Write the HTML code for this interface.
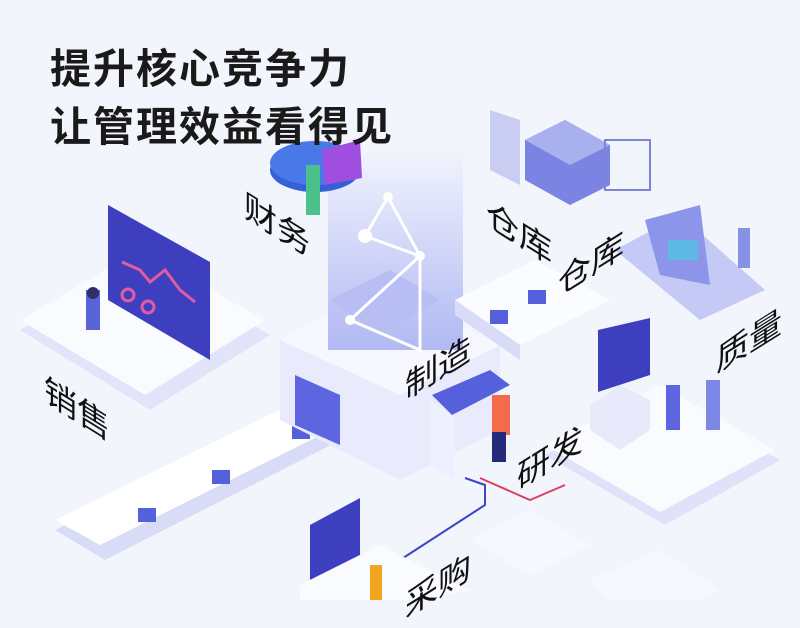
<!DOCTYPE html>
<html><head><meta charset="utf-8"><style>
body{margin:0;width:800px;height:600px;overflow:hidden;background:#f2f5fc;font-family:"Liberation Sans","Noto Sans CJK SC",sans-serif;position:relative}
.t{position:absolute;left:50px;font-size:41px;line-height:46px;font-weight:bold;color:#1a1a1a;letter-spacing:2px}
.l{position:absolute;font-size:33px;color:#111;white-space:nowrap;transform-origin:0 0}
.d{transform:skewY(32deg)}
.u{transform:skewY(-32deg)}
svg{position:absolute;left:0;top:0}
</style></head><body>
<svg width="800" height="600">
<defs>
<linearGradient id="col" x1="0" y1="0" x2="0" y2="1"><stop offset="0" stop-color="#f2f4fd"/><stop offset="1" stop-color="#a9b1f2"/></linearGradient>
</defs>
<polygon points="20,330 140,260 270,335 150,410" fill="#e2e5fa"/>
<polygon points="20,320 140,250 265,320 145,395" fill="#fafbff"/>
<polygon points="108,205 210,262 210,360 108,300" fill="#3d3fbf"/>
<polyline points="122,262 140,270 150,282 165,270 180,290 195,302" stroke="#e05ca0" stroke-width="3" fill="none"/>
<circle cx="128" cy="295" r="6" fill="none" stroke="#e05ca0" stroke-width="3"/>
<circle cx="148" cy="307" r="6" fill="none" stroke="#e05ca0" stroke-width="3"/>
<rect x="86" y="290" width="14" height="40" fill="#5a63d8"/>
<circle cx="93" cy="293" r="6" fill="#2c2f6a"/>
<polygon points="55,530 330,395 380,420 105,560" fill="#d9dcf7"/>
<polygon points="55,520 330,385 375,408 100,545" fill="#fff"/>
<rect x="138" y="508" width="18" height="14" fill="#5560dd"/>
<rect x="212" y="470" width="18" height="14" fill="#5560dd"/>
<rect x="292" y="425" width="18" height="14" fill="#5560dd"/>
<polygon points="280,340 380,285 500,345 500,430 400,480 280,420" fill="#e9ebfc"/>
<polygon points="280,340 380,285 500,345 400,395" fill="#f7f8ff"/>
<polygon points="295,375 340,395 340,445 295,425" fill="#5d66e0"/>
<rect x="328" y="150" width="135" height="200" fill="url(#col)" opacity="0.9"/>
<polygon points="330,300 390,270 440,300 380,335" fill="#b8bdf3"/>
<polyline points="388,197 365,236 420,256 350,320 420,350 420,256 388,197" stroke="#fff" stroke-width="3" fill="none"/>
<circle cx="388" cy="197" r="5" fill="#fff"/><circle cx="365" cy="236" r="7" fill="#fff"/><circle cx="420" cy="256" r="5" fill="#fff"/><circle cx="350" cy="320" r="5" fill="#fff"/>
<polygon points="455,300 535,260 610,300 520,345" fill="#fbfcff"/>
<polygon points="455,300 520,345 520,360 455,315" fill="#d9dcf7"/>
<rect x="490" y="310" width="18" height="14" fill="#5560dd"/><rect x="528" y="290" width="18" height="14" fill="#5560dd"/>
<polygon points="432,395 490,370 510,385 452,415" fill="#5560dd"/>
<polygon points="430,400 455,418 455,480 430,465" fill="#eef0fd"/>
<rect x="492" y="395" width="18" height="40" fill="#f26b4a"/>
<rect x="492" y="432" width="14" height="30" fill="#262a7a"/>
<polyline points="465,478 485,485 485,505 400,560" stroke="#3b45c5" stroke-width="2" fill="none"/>
<polyline points="480,478 530,500 565,485" stroke="#e04060" stroke-width="2" fill="none"/>
<polygon points="545,455 660,395 780,460 665,525" fill="#dfe2f9"/>
<polygon points="545,445 660,385 775,450 660,512" fill="#fafbff"/>
<polygon points="590,405 620,385 650,400 650,430 620,450 590,430" fill="#e8eafc"/>
<polygon points="598,330 650,318 650,375 598,392" fill="#3d3fbf"/>
<rect x="666" y="385" width="14" height="45" fill="#5d66e0"/>
<rect x="706" y="380" width="14" height="50" fill="#7d87e8"/>
<polygon points="615,250 680,215 765,290 700,320" fill="#c4c9f5"/>
<polygon points="645,220 700,205 710,285 660,275" fill="#8d95ea"/>
<rect x="668" y="240" width="30" height="20" fill="#3fd0e0" opacity="0.6"/>
<rect x="738" y="228" width="12" height="40" fill="#8792e6"/>
<ellipse cx="315" cy="170" rx="45" ry="22" fill="#3560d8"/>
<ellipse cx="315" cy="163" rx="45" ry="22" fill="#4b78e8"/>
<polygon points="322,150 360,140 362,178 325,185" fill="#a04ee0"/>
<rect x="306" y="165" width="14" height="50" fill="#4cc08a"/>
<polygon points="490,110 520,120 520,185 490,170" fill="#c9cdf2"/>
<polygon points="525,140 565,120 610,145 610,185 570,205 525,180" fill="#7b84e2"/>
<polygon points="525,140 565,120 610,145 570,165" fill="#a9b0ee"/>
<rect x="605" y="140" width="45" height="50" fill="none" stroke="#7c85d5" stroke-width="2"/>
<polygon points="310,525 360,498 360,555 310,580" fill="#3d3fbf"/>
<polygon points="300,585 380,545 470,590 420,600 300,600" fill="#fafbff"/>
<rect x="370" y="565" width="12" height="35" fill="#f2a620"/>
<polygon points="470,540 530,510 590,545 530,575" fill="#f7f8ff"/>
<polygon points="590,580 660,550 720,590 700,600 610,600" fill="#f7f8ff"/>
</svg>
<div class="t" style="top:46px">提升核心竞争力</div>
<div class="t" style="top:104px">让管理效益看得见</div>
<div class="l d" style="left:244px;top:178px">财务</div>
<div class="l d" style="left:486px;top:186px">仓库</div>
<div class="l u" style="left:558px;top:258px">仓库</div>
<div class="l u" style="left:716px;top:335px">质量</div>
<div class="l u" style="left:405px;top:362px">制造</div>
<div class="l u" style="left:517px;top:452px">研发</div>
<div class="l d" style="left:44px;top:362px">销售</div>
<div class="l u" style="left:405px;top:580px">采购</div>
</body></html>
